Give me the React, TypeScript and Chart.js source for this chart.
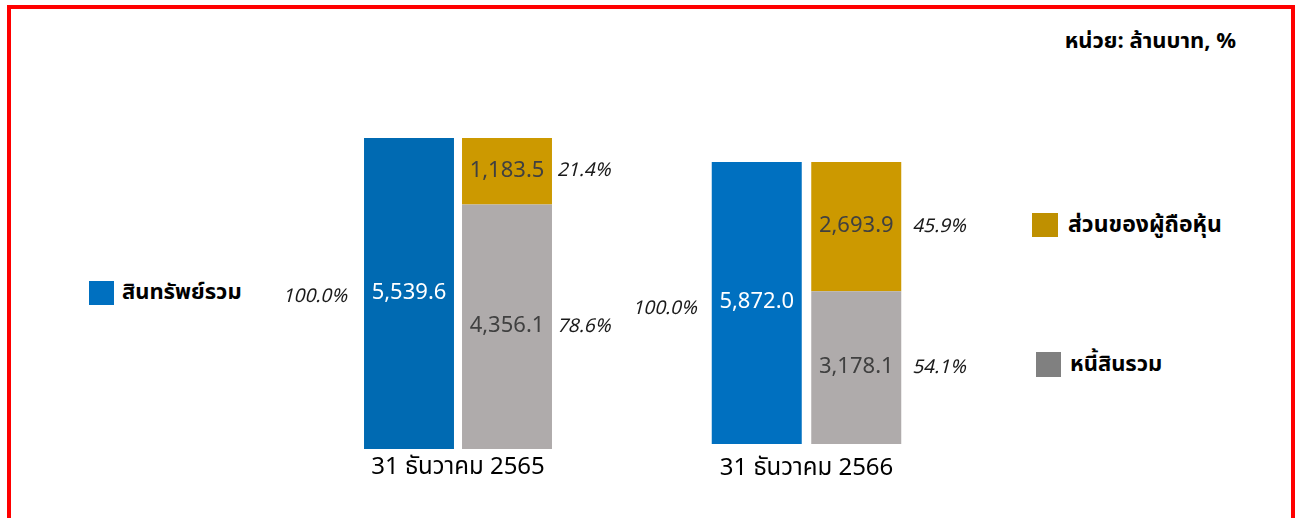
import React, { useEffect, useRef } from 'react';
import { Chart, registerables } from 'chart.js';

Chart.register(...registerables);

// ---- data ----
const periods = ['31 ธันวาคม 2565', '31 ธันวาคม 2566'];
const seriesNames = ['สินทรัพย์รวม', 'ส่วนของผู้ถือหุ้น', 'หนี้สินรวม'];
const totalAssets = [5539.6, 5872.0];
const equity = [1183.5, 2693.9];
const liabilities = [4356.1, 3178.1];
const unitLabel = 'หน่วย: ล้านบาท, %';

const FONT = "Tahoma, 'Noto Sans Thai', 'Leelawadee UI', 'DejaVu Sans', sans-serif";
const BLUES = ['#006AB2', '#0070C0'];
const GOLD = '#CC9900';
const GRAY = '#AFABAB';

const fmt = (v: number) =>
  v.toLocaleString('en-US', { minimumFractionDigits: 1, maximumFractionDigits: 1 });
const pct = (v: number, t: number) => (Math.round((v / t) * 1000) / 10).toFixed(1) + '%';

type Layout = {
  left: number; top: number; width: number; height: number;
  padding: { left: number; right: number; top: number; bottom: number };
  barPct: number; rightGap: number; leftGap: number; leftDy: number; labelDy: number;
};

const layouts: Layout[] = [
  { left: 270, top: 100, width: 360, height: 400, padding: { left: 90, right: 74, top: 38, bottom: 51 }, barPct: 0.918, rightGap: 5, leftGap: 17, leftDy: 5, labelDy: 20 },
  { left: 620, top: 100, width: 360, height: 400, padding: { left: 87, right: 74, top: 62, bottom: 56 }, barPct: 0.9045, rightGap: 11, leftGap: 15, leftDy: 7, labelDy: 26 },
];

function GroupChart({ idx }: { idx: number }) {
  const ref = useRef<HTMLCanvasElement>(null);
  useEffect(() => {
    const L = layouts[idx];
    const total = totalAssets[idx];
    const labelPlugin = {
      id: 'labels',
      afterDatasetsDraw(chart: any) {
        const ctx = chart.ctx;
        ctx.save();
        chart.data.datasets.forEach((ds: any, di: number) => {
          const meta = chart.getDatasetMeta(di);
          meta.data.forEach((el: any, j: number) => {
            const v = ds.data[j];
            if (v == null) return;
            const midY = (el.y + el.base) / 2;
            ctx.font = `22px ${FONT}`;
            ctx.textAlign = 'center';
            ctx.textBaseline = 'middle';
            ctx.fillStyle = di === 0 ? '#FFFFFF' : '#404040';
            ctx.fillText(fmt(v), el.x, midY + 1);
            ctx.font = `italic 19px ${FONT}`;
            ctx.fillStyle = '#1A1A1A';
            if (di === 0) {
              ctx.textAlign = 'right';
              ctx.fillText(pct(v, total), el.x - el.width / 2 - L.leftGap, midY + L.leftDy);
            } else {
              ctx.textAlign = 'left';
              ctx.fillText(pct(v, total), el.x + el.width / 2 + L.rightGap, midY + 1);
            }
          });
        });
        const a = chart.chartArea;
        ctx.font = `24px ${FONT}`;
        ctx.fillStyle = '#000000';
        ctx.textAlign = 'center';
        ctx.textBaseline = 'middle';
        ctx.fillText(periods[idx], (a.left + a.right) / 2, a.bottom + L.labelDy);
        ctx.restore();
      },
    };
    const chart = new Chart(ref.current as HTMLCanvasElement, {
      type: 'bar',
      data: {
        labels: ['assets', 'funding'],
        datasets: [
          { label: seriesNames[0], data: [totalAssets[idx], null], backgroundColor: BLUES[idx] },
          { label: seriesNames[2], data: [null, liabilities[idx]], backgroundColor: GRAY },
          { label: seriesNames[1], data: [null, equity[idx]], backgroundColor: GOLD },
        ],
      },
      options: {
        responsive: false,
        animation: false,
        devicePixelRatio: 1,
        layout: { padding: L.padding },
        datasets: { bar: { categoryPercentage: 1, barPercentage: L.barPct } },
        scales: {
          x: { stacked: true, display: false },
          y: { stacked: true, display: false, min: 0, max: total },
        },
        plugins: { legend: { display: false }, tooltip: { enabled: false } },
      },
      plugins: [labelPlugin],
    } as any);
    return () => chart.destroy();
  }, [idx]);
  const L = layouts[idx];
  return (
    <canvas
      ref={ref}
      width={L.width}
      height={L.height}
      style={{ position: 'absolute', left: L.left, top: L.top, width: L.width, height: L.height }}
    />
  );
}

const legendText: React.CSSProperties = {
  position: 'absolute', fontFamily: FONT, fontWeight: 'bold', fontSize: 22, color: '#000',
  whiteSpace: 'nowrap', lineHeight: '24px',
};

export default function App() {
  return (
    <div style={{ position: 'fixed', left: 0, top: 0, width: 1297, height: 518, background: '#fff', overflow: 'hidden' }}>
      <div style={{ position: 'absolute', left: 7, top: 5, width: 1288, height: 600, border: '4px solid #FF0000', boxSizing: 'border-box' }} />
      <div style={{ ...legendText, fontSize: 22, right: 1297 - 1236, top: 30 }}>{unitLabel}</div>
      <div style={{ position: 'absolute', left: 89, top: 281, width: 25, height: 24, background: '#0070C0' }} />
      <div style={{ ...legendText, left: 122, top: 281 }}>{seriesNames[0]}</div>
      <div style={{ position: 'absolute', left: 1032, top: 213, width: 26, height: 24, background: '#BF9000' }} />
      <div style={{ ...legendText, fontSize: 23, left: 1068, top: 213 }}>{seriesNames[1]}</div>
      <div style={{ position: 'absolute', left: 1036, top: 352, width: 25, height: 25, background: '#808080' }} />
      <div style={{ ...legendText, left: 1070, top: 353 }}>{seriesNames[2]}</div>
      <GroupChart idx={0} />
      <GroupChart idx={1} />
    </div>
  );
}
